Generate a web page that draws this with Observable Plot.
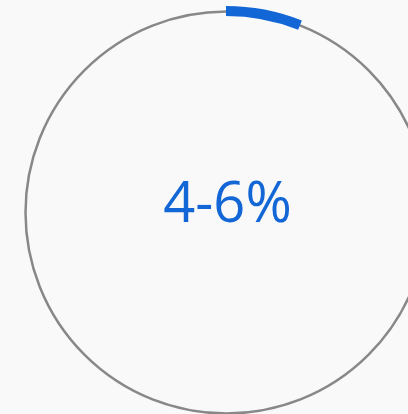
<!DOCTYPE html>
<html>
<head>
<meta charset="utf-8">
<script src="https://cdn.jsdelivr.net/npm/d3@7"></script>
<script src="https://cdn.jsdelivr.net/npm/@observablehq/plot@0.6"></script>
<style>
  html, body { margin: 0; padding: 0; background: #f9f9f9; overflow: hidden; }
  #chart { width: 408px; height: 414px; overflow: hidden; }
</style>
</head>
<body>
<div id="chart"></div>
<script>
// Data
const labels = ["4-6%"];
const shareLow = [0];     // arc start (fraction of circle)
const shareHigh = [0.06]; // arc end (fraction of circle)

const data = labels.map((label, i) => ({label, start: shareLow[i], end: shareHigh[i]}));

const R = 201;
const ARC_W = 10;

function arcMark(index, scales, values, dims) {
  const cx = dims.marginLeft + (dims.width - dims.marginLeft - dims.marginRight) / 2;
  const cy = dims.marginTop + (dims.height - dims.marginTop - dims.marginBottom) / 2;
  const angle = d3.scaleLinear().domain([0, 1]).range([0, 2 * Math.PI]);
  const g = d3.create("svg:g");
  const arc = d3.arc().innerRadius(R - ARC_W / 2).outerRadius(R + ARC_W / 2);
  g.selectAll("path")
    .data(data)
    .join("path")
    .attr("transform", `translate(${cx},${cy})`)
    .attr("fill", "#1366d6")
    .attr("d", d => arc({startAngle: angle(d.start), endAngle: angle(d.end)}));
  return g.node();
}

const chart = Plot.plot({
  width: 408,
  height: 414,
  marginLeft: 44,
  marginRight: 0,
  marginTop: 10,
  marginBottom: 0,
  style: {background: "#f9f9f9", fontFamily: "Open Sans"},
  marks: [
    Plot.dot(data, {frameAnchor: "middle", r: R, fill: "none", stroke: "#888888", strokeWidth: 2.5}),
    arcMark,
    Plot.text(data, {
      frameAnchor: "middle",
      text: "label",
      fill: "#1366d6",
      fontSize: 56,
      fontFamily: "Open Sans",
      textAnchor: "middle",
      lineAnchor: "middle",
      dx: 1,
      dy: -8
    })
  ]
});
document.getElementById("chart").appendChild(chart);
</script>
</body>
</html>
